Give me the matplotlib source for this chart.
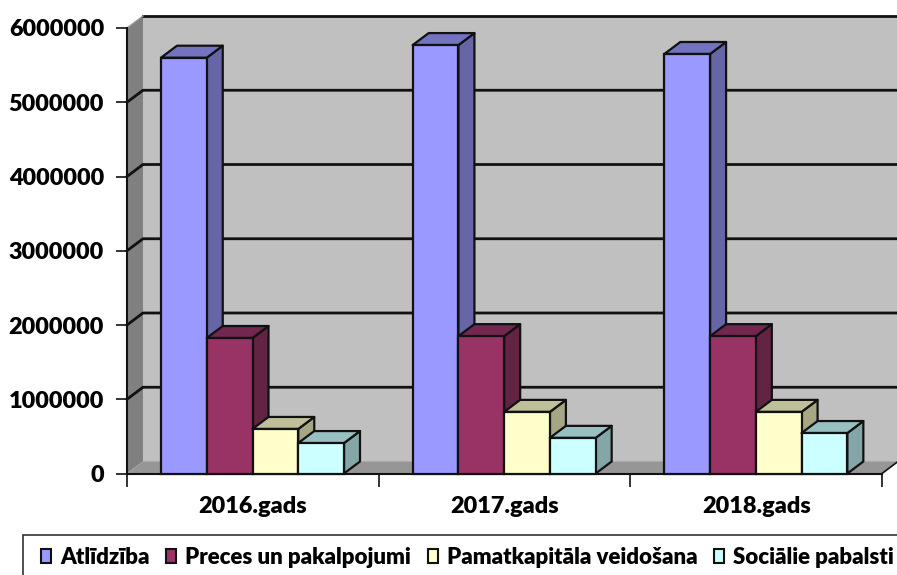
import matplotlib
matplotlib.use("Agg")
import matplotlib.pyplot as plt
from matplotlib.patches import Polygon, Patch, Rectangle
import numpy as np

plt.rcParams['font.family'] = ['Lato', 'DejaVu Sans']
plt.rcParams['font.weight'] = 'heavy'

years = ["2016.gads", "2017.gads", "2018.gads"]
series = ["Atlīdzība", "Preces un pakalpojumi", "Pamatkapitāla veidošana", "Sociālie pabalsti"]
atlidziba = [5600000, 5770000, 5650000]
preces = [1825000, 1850000, 1850000]
pamatkapitals = [600000, 830000, 830000]
sociālie = [410000, 480000, 545000]
values = [atlidziba, preces, pamatkapitals, sociālie]

front = ["#9999FF", "#993366", "#FFFFCC", "#CCFFFF"]
side = ["#6666A6", "#632342", "#A6A685", "#85A6A6"]
top = ["#7373BF", "#732650", "#BFBF99", "#99C0C0"]

W, H = 897, 575
fig = plt.figure(figsize=(W / 100, H / 100), dpi=100, facecolor="white")
# pixel box of the front of the plot
x0, x1, ybot, ytop = 127, 882, 473.5, 28
ax = fig.add_axes([x0 / W, 1 - ybot / H, (x1 - x0) / W, (ybot - ytop) / H])
ax.set_xlim(0, 3)
ax.set_ylim(0, 6000000)
ax.patch.set_visible(False)

# depth of the fake 3D, in data units
dx = 16 / ((x1 - x0) / 3)
dy = 12 / ((ybot - ytop) / 6000000)
ymax = 6000000


def poly(pts, fc, ec="none", lw=0, z=1):
    ax.add_patch(Polygon(pts, closed=True, facecolor=fc, edgecolor=ec, linewidth=lw,
                         zorder=z, clip_on=False, joinstyle="round"))


# walls and floor
poly([(dx, dy), (3 + dx, dy), (3 + dx, ymax + dy), (dx, ymax + dy)], "#C0C0C0")
poly([(0, 0), (dx, dy), (dx, ymax + dy), (0, ymax)], "#808080")
poly([(0, 0), (3, 0), (3 + dx, dy), (dx, dy)], "#969696")
ax.plot([dx, 3 + dx], [ymax + dy, ymax + dy], color="#111111", lw=2, zorder=1.5, clip_on=False)
ax.plot([3, 3 + dx], [0, dy], color="#111111", lw=1.2, zorder=1.5, clip_on=False)

# gridlines run across the back wall, with a slanted bit on the side wall
yticks = np.arange(0, 6000001, 1000000)
for v in yticks[1:-1]:
    ax.plot([0, dx, 3 + dx], [v, v + dy, v + dy], color="#111111", lw=2, zorder=1.6, clip_on=False)
ax.plot([0, dx], [ymax, ymax + dy], color="#999999", lw=1, zorder=1.6, clip_on=False)

bar_w = 45.75 / ((x1 - x0) / 3)
start = 34 / ((x1 - x0) / 3)
z = 3
for g in range(len(years)):
    for s in range(len(series)):
        v = values[s][g]
        left = g + start + s * bar_w
        right = left + bar_w
        ax.bar(left, v, width=bar_w, align="edge", color=front[s], edgecolor="#111111",
               linewidth=1.6, zorder=z + 0.2, clip_on=False)
        poly([(right, 0), (right + dx, dy), (right + dx, v + dy), (right, v)], side[s], "#111111", 1.6, z)
        poly([(left, v), (right, v), (right + dx, v + dy), (left + dx, v + dy)], top[s], "#111111", 1.6, z + 0.1)
        z += 1

for sp in ["top", "right"]:
    ax.spines[sp].set_visible(False)
for sp in ["left", "bottom"]:
    ax.spines[sp].set_color("#111111")
    ax.spines[sp].set_linewidth(1.5)
    ax.spines[sp].set_zorder(2)

ax.set_yticks(yticks)
ax.set_yticklabels([str(v) for v in yticks])
ax.tick_params(axis="y", length=8, width=1.2, color="#111111", labelsize=16.8, pad=8.5)
ax.set_xticks([0, 1, 2, 3])
ax.set_xticklabels([])
ax.set_xticks([0.5, 1.5, 2.5], minor=True)
ax.set_xticklabels(years, minor=True)
ax.tick_params(axis="x", which="major", length=9, width=1.2, color="#111111")
ax.tick_params(axis="x", which="minor", length=0, labelsize=16.8, pad=16)

# legend frame runs off the right and bottom of the picture
fig.add_artist(Rectangle((23 / W, -10 / H), (W + 10 - 23) / W, (H - 535 + 10) / H,
                         transform=fig.transFigure, facecolor="white", edgecolor="#333333", linewidth=1.2))
handles = [Patch(facecolor=c, edgecolor="#111111", linewidth=1.5) for c in front]
fig.legend(handles, series, ncol=4, loc="center left",
           bbox_to_anchor=(41 / W, 1 - 557 / H), bbox_transform=fig.transFigure,
           fontsize=16, frameon=False, borderaxespad=0, borderpad=0,
           handlelength=0.45, handleheight=0.6, handletextpad=0.4, columnspacing=0.76)

fig.savefig("out.png", dpi=100, facecolor="white")
print("wrote out.png")
